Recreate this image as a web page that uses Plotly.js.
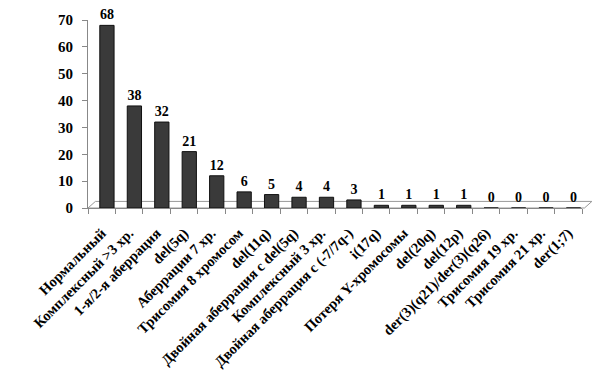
<!DOCTYPE html>
<html>
<head>
<meta charset="utf-8">
<script src="https://cdn.plot.ly/plotly-3.0.1.min.js"></script>
<style>html,body{margin:0;padding:0;background:#fff;}#chart{width:600px;height:375px;}</style>
</head>
<body>
<div id="chart"></div>
<script>
const categories = [
  "Нормальный",
  "Комплексный >3 хр.",
  "1-я/2-я аберрация",
  "del(5q)",
  "Аберрации 7 хр.",
  "Трисомия 8 хромосом",
  "del(11q)",
  "Двойная аберрация с del(5q)",
  "Комплексный 3 хр.",
  "Двойная аберрация с (-7/7q-)",
  "i(17q)",
  "Потеря Y-хромосомы",
  "del(20q)",
  "del(12p)",
  "der(3)(q21)/der(3)(q26)",
  "Трисомия 19 хр.",
  "Трисомия 21 хр.",
  "der(1;7)"
];
const counts = [68, 38, 32, 21, 12, 6, 5, 4, 4, 3, 1, 1, 1, 1, 0, 0, 0, 0];
const yTicks = [0, 10, 20, 30, 40, 50, 60, 70];

const serif = "Liberation Serif, Times New Roman, serif";

const trace = {
  type: "bar",
  x: categories,
  y: counts,
  width: 0.52,
  offset: -0.07,
  marker: { color: "#3a3a3a", line: { color: "#111", width: 1 } },
  text: counts.map(String),
  textposition: "outside",
  cliponaxis: false,
  textfont: { family: serif, size: 14, color: "#000", weight: "bold" },
  hoverinfo: "x+y"
};

const layout = {
  width: 600,
  height: 375,
  margin: { l: 88, r: 18, t: 20, b: 167 },
  paper_bgcolor: "#fff",
  plot_bgcolor: "#fff",
  showlegend: false,
  xaxis: {
    type: "category",
    tickangle: -45,
    tickfont: { family: serif, size: 14.5, color: "#000", weight: "bold" },
    showline: true,
    linecolor: "#888",
    linewidth: 1,
    ticks: "outside",
    tickson: "boundaries",
    ticklen: 5,
    tickcolor: "#888",
    ticklabelstandoff: 10,
    showgrid: false,
    zeroline: false,
    automargin: false
  },
  yaxis: {
    range: [0, 70],
    tickvals: yTicks,
    ticktext: yTicks.map(String),
    tickfont: { family: serif, size: 15, color: "#000", weight: "bold" },
    showline: true,
    linecolor: "#888",
    linewidth: 1,
    ticks: "outside",
    ticklen: 5,
    tickcolor: "#888",
    ticklabelstandoff: 6,
    showgrid: false,
    zeroline: false,
    automargin: false
  },
  shapes: [
    {
      type: "path",
      xref: "paper",
      yref: "paper",
      path: "M 0 0 L 0.015 0.035 L 1.02 0.035 L 1.005 0 Z",
      line: { color: "#999", width: 1 },
      fillcolor: "rgba(0,0,0,0)",
      layer: "below"
    }
  ]
};

Plotly.newPlot("chart", [trace], layout, { displayModeBar: false, staticPlot: true });
</script>
</body>
</html>
